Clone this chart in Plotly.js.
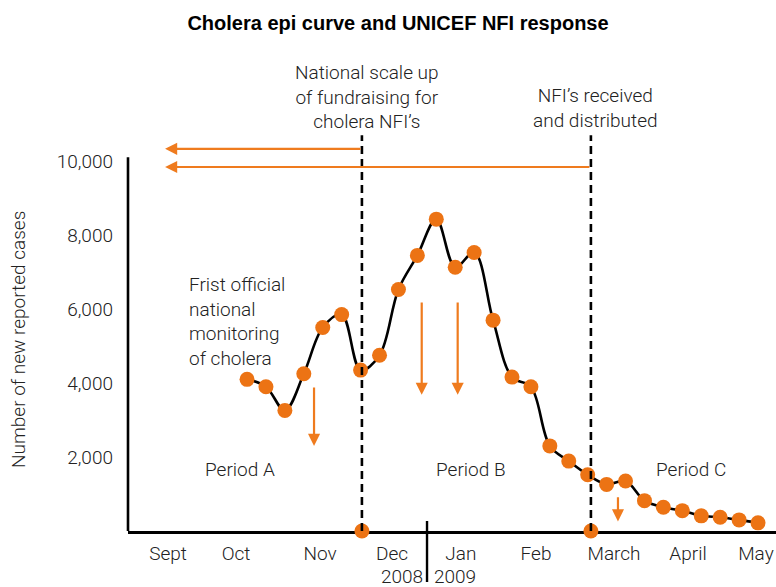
<!DOCTYPE html>
<html>
<head>
<meta charset="utf-8">
<script src="https://cdn.plot.ly/plotly-3.0.1.min.js"></script>
<style>html,body{margin:0;padding:0;background:#fff;}</style>
</head>
<body>
<div id="chart" style="width:776px;height:587px;"></div>
<script>
// Weekly new reported cholera cases (weeks counted from the first national report)
const weeks = [0, 1, 2, 3, 4, 5, 6, 7, 8, 9, 10, 11, 12, 13, 14, 15, 16, 17, 18, 19, 20, 21, 22, 23, 24, 25, 26, 27];
const cases = [4100, 3900, 3260, 4250, 5500, 5850, 4350,
               4750, 6530, 7450, 8430, 7130, 7530, 5700, 4160, 3900, 2300, 1890, 1520,
               1260, 1350, 820, 640, 550, 410, 370, 300, 220];

// Month labels along the time axis
const monthPos = [-4.17, -0.58, 3.86, 7.66, 11.30, 15.27, 19.39, 23.30, 26.89];
const monthLabels = ['Sept', 'Oct', 'Nov', 'Dec', 'Jan', 'Feb', 'March', 'April', 'May'];

// Response milestones (week) and the week the year changes
const milestoneWeeks = [6.07, 18.17];
const milestoneLabels = ['National scale up<br>of fundraising for<br>cholera NFI\u2019s', 'NFI\u2019s received<br>and distributed'];
const yearBreakWeek = 9.51;
const yearLabels = ['2008', '2009'];
const yearPos = [8.19, 10.99];

// Period labels
const periodNames = ['Period A', 'Period B', 'Period C'];
const periodPos = [-0.37, 11.83, 23.46];

// Lead-time arrows back to the first report
const leadArrowStart = -4.33;
const leadArrowLevels = [10330, 9840];

// Downward arrows marking case drops
const dropWeeks = [3.54, 9.23, 11.13, 19.6];
const dropFrom = [3920, 6220, 6220, 950];
const dropTo = [2300, 3680, 3680, 260];

const orange = '#EC7314';
const arrowOrange = '#EF7B1E';
const ink = '#222222';
const font = {family: 'Roboto, "Liberation Sans", Arial, sans-serif', size: 19, color: ink, weight: 300};

const xRange = [-6.29, 27.95];
const yRange = [0, 10840];

const traces = [
  {
    x: weeks, y: cases, type: 'scatter', mode: 'lines+markers',
    line: {color: '#000', width: 2.6, shape: 'spline', smoothing: 1},
    marker: {color: orange, size: 15, line: {width: 0}},
    hoverinfo: 'x+y', showlegend: false
  },
  {
    x: milestoneWeeks, y: milestoneWeeks.map(() => 0), type: 'scatter', mode: 'markers',
    marker: {color: orange, size: 15, line: {width: 0}},
    cliponaxis: false, hoverinfo: 'x', showlegend: false
  }
];

const pxToPaperY = px => (531 - px) / 401;

const shapes = [];
// y axis line, stopping just above the top tick
shapes.push({type: 'line', xref: 'paper', yref: 'y', x0: 0, x1: 0, y0: 0, y1: 10100,
             line: {color: '#000', width: 2.6}});
// milestone dashed verticals
milestoneWeeks.forEach(w => shapes.push({
  type: 'line', xref: 'x', yref: 'y', x0: w, x1: w, y0: 0, y1: 10700, layer: 'above',
  line: {color: '#000', width: 2.6, dash: '8px,5px'}
}));
// 2008 | 2009 separator below the axis
shapes.push({type: 'line', xref: 'x', yref: 'paper', x0: yearBreakWeek, x1: yearBreakWeek,
             y0: pxToPaperY(521), y1: pxToPaperY(582), line: {color: '#000', width: 2.4}});

const annotations = [];
// milestone captions
annotations.push({xref: 'x', yref: 'paper', x: milestoneWeeks[0] + 0.27, y: pxToPaperY(97),
                  xanchor: 'center', yanchor: 'middle',
                  text: milestoneLabels[0], showarrow: false, font: font, align: 'center'});
annotations.push({xref: 'x', yref: 'paper', x: milestoneWeeks[1] + 0.22, y: pxToPaperY(107.5),
                  xanchor: 'center', yanchor: 'middle',
                  text: milestoneLabels[1], showarrow: false, font: font, align: 'center'});
// lead-time arrows pointing back to September
leadArrowLevels.forEach((lvl, i) => annotations.push({
  xref: 'x', yref: 'y', axref: 'x', ayref: 'y',
  x: leadArrowStart, y: lvl, ax: milestoneWeeks[i], ay: lvl,
  text: '', showarrow: true, arrowhead: 2, arrowsize: 1.1, arrowwidth: 2.2, arrowcolor: arrowOrange
}));
// downward arrows
dropWeeks.forEach((w, i) => annotations.push({
  xref: 'x', yref: 'y', axref: 'x', ayref: 'y',
  x: w, y: dropTo[i], ax: w, ay: dropFrom[i],
  text: '', showarrow: true, arrowhead: 2, arrowsize: 1.1, arrowwidth: 2.2, arrowcolor: arrowOrange
}));
// first monitoring note
annotations.push({xref: 'x', yref: 'y', x: -3.17, y: 5660, xanchor: 'left', yanchor: 'middle', align: 'left',
                  text: 'Frist official<br>national<br>monitoring<br>of cholera', showarrow: false, font: font});
// period names
periodNames.forEach((p, i) => annotations.push({
  xref: 'x', yref: 'y', x: periodPos[i], y: 1650, xanchor: 'center', yanchor: 'middle',
  text: p, showarrow: false, font: font
}));
// years
yearLabels.forEach((yr, i) => annotations.push({
  xref: 'x', yref: 'paper', x: yearPos[i], y: pxToPaperY(576), xanchor: 'center', yanchor: 'middle',
  text: yr, showarrow: false, font: font
}));
// y axis caption
annotations.push({xref: 'paper', yref: 'paper', x: (18 - 128) / 648, y: pxToPaperY(340),
                  xanchor: 'center', yanchor: 'middle',
                  text: 'Number of new reported cases', textangle: -90, showarrow: false,
                  font: font});

const layout = {
  width: 776, height: 587,
  margin: {l: 128, r: 0, t: 130, b: 56, pad: 0},
  paper_bgcolor: '#fff', plot_bgcolor: '#fff',
  title: {
    text: '<b>Cholera epi curve and UNICEF NFI response</b>',
    x: 398 / 776, xanchor: 'center', y: 1 - 23 / 587, yanchor: 'middle',
    font: {family: '"Liberation Sans", Arial, sans-serif', size: 20, color: '#000'}
  },
  xaxis: {
    range: xRange, showgrid: false, zeroline: false,
    showline: true, linecolor: '#000', linewidth: 2.6, layer: 'below traces',
    tickvals: monthPos, ticktext: monthLabels, ticks: '',
    tickfont: font, ticklabelstandoff: 4, fixedrange: true
  },
  yaxis: {
    range: yRange, showgrid: false, zeroline: false, showline: false,
    tickvals: [2000, 4000, 6000, 8000, 10000], tickformat: ',d', ticks: '',
    tickfont: font, ticklabelstandoff: 14, fixedrange: true
  },
  shapes: shapes,
  annotations: annotations,
  showlegend: false
};

Plotly.newPlot('chart', traces, layout, {displayModeBar: false, staticPlot: true});
</script>
</body>
</html>
